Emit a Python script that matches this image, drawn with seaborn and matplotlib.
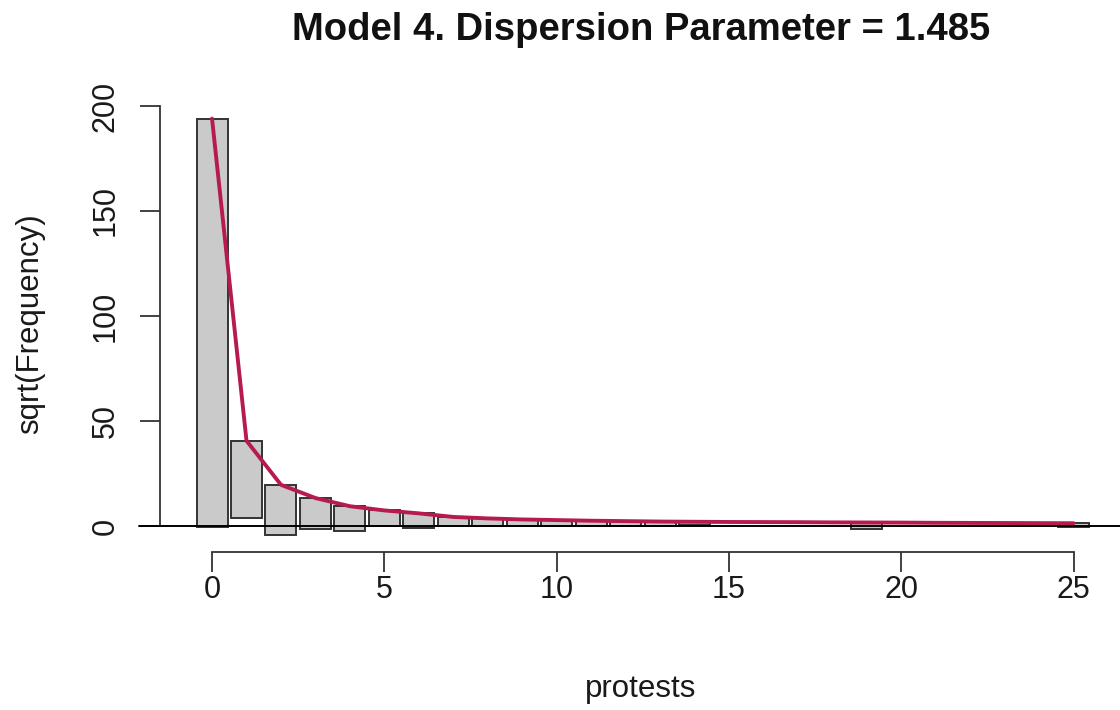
import matplotlib
matplotlib.use("Agg")
import matplotlib.pyplot as plt
import seaborn as sns
import pandas as pd

# ---- data ----
counts = list(range(26))
expected_sqrt = [194.0, 40.6, 19.6, 13.3, 9.4, 7.4, 6.0, 4.3, 3.6, 3.1,
                 2.8, 2.5, 2.3, 2.1, 2.0, 1.9, 1.85, 1.8, 1.7, 1.65,
                 1.6, 1.5, 1.45, 1.4, 1.35, 1.3]
observed_sqrt = [194.3, 36.6, 23.9, 14.7, 11.6, 7.4, 7.1, 4.1, 3.4, 3.1,
                 2.6, 2.3, 2.1, 2.0, 1.7, 0.0, 0.0, 0.0, 0.0, 3.3,
                 0.0, 0.0, 0.0, 0.0, 0.0, 1.8]
x_ticks = [0, 5, 10, 15, 20, 25]
y_ticks = [0, 50, 100, 150, 200]
title_text = "Model 4. Dispersion Parameter = 1.485"
x_label = "protests"
y_label = "sqrt(Frequency)"

df = pd.DataFrame({"count": counts, "expected": expected_sqrt, "observed": observed_sqrt})
df["bottom"] = df["expected"] - df["observed"]

sns.set_theme(style="white")
plt.rcParams["font.family"] = ["Liberation Sans", "DejaVu Sans"]

W, H = 1120, 710
fig = plt.figure(figsize=(W / 100, H / 100), dpi=100)
ax = fig.add_axes([160 / W, (H - 552) / H, 966 / W, 450 / H])

# hanging bars
ax.bar(df["count"], df["observed"], bottom=df["bottom"], width=0.9,
       color="#CACACA", edgecolor="#333333", linewidth=1.4, zorder=2)
# reference line at zero
ax.plot([-2.12, 26.6], [0, 0], color="black", lw=1.4, clip_on=False, zorder=3)
# expected curve
sns.lineplot(data=df, x="count", y="expected", color="#B61A51", lw=2.8,
             ax=ax, zorder=4)

ax.set_xlim(-1.51, 26.52)
ax.set_ylim(-12.4, 201.9)
ax.set_xticks(x_ticks)
ax.set_yticks(y_ticks)
ax.set_xlabel("")
ax.set_ylabel("")

for s in ["top", "right"]:
    ax.spines[s].set_visible(False)
ax.spines["left"].set_bounds(0, 200)
ax.spines["bottom"].set_bounds(0, 25)
for s in ["left", "bottom"]:
    ax.spines[s].set_color("#333333")
    ax.spines[s].set_linewidth(1.3)

ax.tick_params(axis="both", which="major", direction="out", length=14.4,
               width=1.3, color="#333333", labelsize=22, labelcolor="#1a1a1a",
               left=True, bottom=True)
ax.tick_params(axis="x", pad=2)
ax.tick_params(axis="y", pad=14, labelrotation=90)
for lbl in ax.get_yticklabels():
    lbl.set_verticalalignment("center")

fig.text(641 / W, 1 - 40 / H, title_text, ha="center", va="baseline",
         fontsize=27.5, fontweight="bold", color="#111111")
fig.text(641 / W, 1 - 697 / H, x_label, ha="center", va="baseline",
         fontsize=22.5, color="#1a1a1a")
fig.text(30 / W, 1 - 324 / H, y_label, ha="center", va="center",
         rotation=90, fontsize=22.5, color="#1a1a1a")

fig.savefig("out.png", dpi=100, facecolor="white")
